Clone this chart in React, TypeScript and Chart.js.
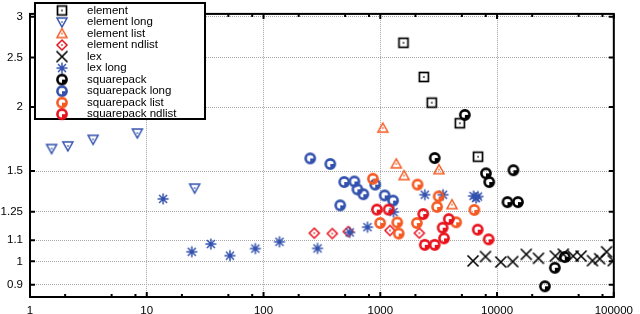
import React, { useEffect, useRef } from "react";
import { Chart, registerables } from "chart.js";
Chart.register(...registerables);

// ---- data ----
const seriesNames = [
  "element",
  "element long",
  "element list",
  "element ndlist",
  "lex",
  "lex long",
  "squarepack",
  "squarepack long",
  "squarepack list",
  "squarepack ndlist",
];

const elementX = [1580, 2360, 2760, 4800, 6870];
const elementY = [2.67, 2.29, 2.04, 1.86, 1.6];

const elementLongX = [1.53, 2.11, 3.47, 8.3, 25.7];
const elementLongY = [1.66, 1.68, 1.73, 1.78, 1.39];

const elementListX = [1050, 1370, 1600, 3180, 4110];
const elementListY = [1.82, 1.55, 1.47, 1.51, 1.29];

const elementNdlistX = [272, 388, 531, 1210, 2160];
const elementNdlistY = [1.135, 1.133, 1.143, 1.149, 1.135];

const lexX = [6230, 7960, 10770, 13620, 17790, 22640, 31560, 36900, 44880, 52480, 65650, 75660, 86700, 99000];
const lexY = [1.002, 1.022, 0.997, 0.999, 1.032, 1.014, 1.024, 1.033, 1.024, 1.024, 1.003, 1.012, 1.044, 1.003];

const lexLongX = [13.8, 24.3, 35.4, 51.6, 85.1, 137, 290, 547, 777, 1297, 2405, 3445, 6295, 6607, 6873];
const lexLongY = [1.324, 1.044, 1.081, 1.026, 1.059, 1.092, 1.06, 1.139, 1.166, 1.248, 1.349, 1.349, 1.341, 1.329, 1.338];

const squarepackX = [5300, 2925, 8035, 8570, 13800, 12280, 15100, 31260, 38010, 25700];
const squarepackY = [1.931, 1.591, 1.485, 1.428, 1.506, 1.305, 1.305, 0.9715, 1.0196, 0.894];

const squarepackLongX = [251, 373, 491, 600, 637, 716, 454, 905, 1090, 1288];
const squarepackLongY = [1.588, 1.549, 1.428, 1.432, 1.382, 1.352, 1.286, 1.412, 1.345, 1.314];

const squarepackListX = [865, 998, 1397, 1439, 2084, 2057, 3162, 3064, 4467, 6393];
const squarepackListY = [1.449, 1.188, 1.191, 1.133, 1.412, 1.188, 1.339, 1.277, 1.192, 1.26];

const squarepackNdlistX = [935, 1176, 2332, 3862, 3420, 3515, 2405, 2925, 6828, 8472];
const squarepackNdlistY = [1.262, 1.262, 1.237, 1.209, 1.163, 1.109, 1.077, 1.077, 1.153, 1.104];

const xTickValues = [1, 10, 100, 1000, 10000, 100000];
const xTickLabels = ["1", "10", "100", "1000", "10000", "100000"];
const yTickValues = [0.9, 1, 1.1, 1.25, 1.5, 2, 2.5, 3];
const yTickLabels = ["0.9", "1", "1.1", "1.25", "1.5", "2", "2.5", "3"];

const BLACK = "#000000";
const BLUE = "#3352ae";
const ORANGE = "#f55a22";
const RED = "#e8121c";

const seriesX = [elementX, elementLongX, elementListX, elementNdlistX, lexX, lexLongX, squarepackX, squarepackLongX, squarepackListX, squarepackNdlistX];
const seriesY = [elementY, elementLongY, elementListY, elementNdlistY, lexY, lexLongY, squarepackY, squarepackLongY, squarepackListY, squarepackNdlistY];
const seriesKinds = ["square", "tridown", "triup", "diamond", "cross", "star", "pie", "pie", "pie", "pie"];
const seriesColors = [BLACK, BLUE, ORANGE, RED, BLACK, BLUE, BLACK, BLUE, ORANGE, RED];

function makeMarker(kind: string, color: string): HTMLCanvasElement {
  const S = 16;
  const c = 8;
  const cv = document.createElement("canvas");
  cv.width = S;
  cv.height = S;
  const g = cv.getContext("2d")!;
  g.strokeStyle = color;
  g.fillStyle = color;
  g.lineWidth = 1.5;
  g.lineJoin = "miter";
  const dot = () => g.fillRect(c - 0.75, c - 0.75, 1.5, 1.5);
  if (kind === "square") {
    g.lineWidth = 1.7;
    g.strokeRect(c - 4.5, c - 4.5, 9, 9);
    dot();
  } else if (kind === "tridown") {
    g.beginPath();
    g.moveTo(c - 5, c - 4);
    g.lineTo(c + 5, c - 4);
    g.lineTo(c, c + 5);
    g.closePath();
    g.stroke();
    dot();
  } else if (kind === "triup") {
    g.beginPath();
    g.moveTo(c - 5, c + 4);
    g.lineTo(c + 5, c + 4);
    g.lineTo(c, c - 5);
    g.closePath();
    g.stroke();
    dot();
  } else if (kind === "diamond") {
    g.beginPath();
    g.moveTo(c, c - 5);
    g.lineTo(c + 5, c);
    g.lineTo(c, c + 5);
    g.lineTo(c - 5, c);
    g.closePath();
    g.stroke();
    dot();
  } else if (kind === "cross") {
    g.lineWidth = 1.6;
    g.beginPath();
    g.moveTo(c - 5.5, c - 5.5);
    g.lineTo(c + 5.5, c + 5.5);
    g.moveTo(c + 5.5, c - 5.5);
    g.lineTo(c - 5.5, c + 5.5);
    g.stroke();
  } else if (kind === "star") {
    g.lineWidth = 1.5;
    g.beginPath();
    const r = 5.5;
    const d = 4;
    g.moveTo(c - r, c);
    g.lineTo(c + r, c);
    g.moveTo(c, c - r);
    g.lineTo(c, c + r);
    g.moveTo(c - d, c - d);
    g.lineTo(c + d, c + d);
    g.moveTo(c + d, c - d);
    g.lineTo(c - d, c + d);
    g.stroke();
  } else if (kind === "pie") {
    g.lineWidth = 2.6;
    g.beginPath();
    g.arc(c, c, 4.6, 0, Math.PI * 2);
    g.stroke();
    g.beginPath();
    g.moveTo(c, c);
    g.arc(c, c, 4.6, 0, Math.PI / 2);
    g.closePath();
    g.fill();
  }
  return cv;
}

export default function App() {
  const ref = useRef<HTMLCanvasElement | null>(null);

  useEffect(() => {
    const canvas = ref.current;
    if (!canvas) return;
    const markers = seriesKinds.map((k, i) => makeMarker(k, seriesColors[i]));
    const FONT = "Liberation Sans, Arial, Helvetica, sans-serif";

    const datasets = seriesNames.map((name, i) => ({
      label: name,
      data: seriesX[i].map((x, j) => ({ x, y: seriesY[i][j] })),
      pointStyle: markers[i] as any,
      pointRadius: 5,
      showLine: false,
      order: seriesNames.length - i,
      borderColor: seriesColors[i],
      backgroundColor: seriesColors[i],
    }));

    const framePlugin = {
      id: "frameLegend",
      afterDraw(chart: any) {
        const ctx = chart.ctx as CanvasRenderingContext2D;
        const a = chart.chartArea;
        const xs = chart.scales.x;
        const ys = chart.scales.y;
        ctx.save();
        ctx.strokeStyle = "#000";
        ctx.lineWidth = 2;
        ctx.beginPath();
        for (let d = 0; d < 5; d++) {
          for (const m of [2, 5, 8]) {
            const px = xs.getPixelForValue(m * Math.pow(10, d));
            ctx.moveTo(px, a.bottom);
            ctx.lineTo(px, a.bottom - 3);
            ctx.moveTo(px, a.top);
            ctx.lineTo(px, a.top + 3);
          }
        }
        for (const v of xTickValues) {
          const px = xs.getPixelForValue(v);
          ctx.moveTo(px, a.bottom);
          ctx.lineTo(px, a.bottom - 5);
          ctx.moveTo(px, a.top);
          ctx.lineTo(px, a.top + 5);
        }
        for (const v of yTickValues) {
          const py = ys.getPixelForValue(v);
          ctx.moveTo(a.left, py);
          ctx.lineTo(a.left + 5, py);
          ctx.moveTo(a.right, py);
          ctx.lineTo(a.right - 5, py);
        }
        ctx.stroke();
        ctx.lineWidth = 2;
        ctx.strokeRect(a.left, a.top, a.right - a.left, a.bottom - a.top);

        // legend
        const lx = 35, ly = 3, lw = 170, lh = 116;
        ctx.fillStyle = "#fff";
        ctx.fillRect(lx, ly, lw, lh);
        ctx.strokeStyle = "#000";
        ctx.lineWidth = 2;
        ctx.strokeRect(lx, ly, lw, lh);
        ctx.font = "11.5px " + FONT;
        ctx.textBaseline = "middle";
        ctx.textAlign = "left";
        seriesNames.forEach((name, i) => {
          const yy = 10.5 + i * 11.52;
          const mk = markers[i];
          ctx.drawImage(mk, 62 - mk.width / 2, yy - mk.height / 2);
          ctx.fillStyle = "#000";
          ctx.fillText(name, 87, yy);
        });
        ctx.restore();
      },
    };

    const chart = new Chart(canvas, {
      type: "scatter",
      data: { datasets: datasets as any },
      options: {
        animation: false,
        responsive: false,
        maintainAspectRatio: false,
        layout: { padding: { top: 2, right: 21, left: 0, bottom: 0 } },
        plugins: { legend: { display: false }, tooltip: { enabled: false } },
        scales: {
          x: {
            type: "logarithmic",
            min: 1,
            max: 100000,
            afterBuildTicks: (s: any) => {
              s.ticks = xTickValues.map((v) => ({ value: v }));
            },
            afterFit: (s: any) => {
              s.height = 17;
            },
            ticks: {
              autoSkip: false,
              maxRotation: 0,
              padding: 7,
              color: "#000",
              font: { family: FONT, size: 11.5 },
              callback: (v: any) => {
                const i = xTickValues.indexOf(Number(v));
                return i >= 0 ? xTickLabels[i] : "";
              },
            },
            grid: { color: "#a8a8a8", lineWidth: 1, drawTicks: false },
            border: { display: false, dash: [1, 1] },
          },
          y: {
            type: "logarithmic",
            min: 0.852,
            max: 3.04,
            afterBuildTicks: (s: any) => {
              s.ticks = yTickValues.map((v) => ({ value: v }));
            },
            afterFit: (s: any) => {
              s.width = 30;
            },
            ticks: {
              autoSkip: false,
              padding: 7,
              color: "#000",
              font: { family: FONT, size: 11.5 },
              callback: (v: any) => {
                const i = yTickValues.findIndex((t) => Math.abs(t - Number(v)) < 1e-9);
                return i >= 0 ? yTickLabels[i] : "";
              },
            },
            grid: { color: "#a8a8a8", lineWidth: 1, drawTicks: false },
            border: { display: false, dash: [1, 1] },
          },
        },
      },
      plugins: [framePlugin],
    });
    return () => chart.destroy();
  }, []);

  return (
    <div style={{ position: "fixed", left: 0, top: 0, width: 640, height: 314, background: "#fff" }}>
      <canvas ref={ref} width={640} height={314} style={{ width: 640, height: 314, display: "block" }} />
    </div>
  );
}
